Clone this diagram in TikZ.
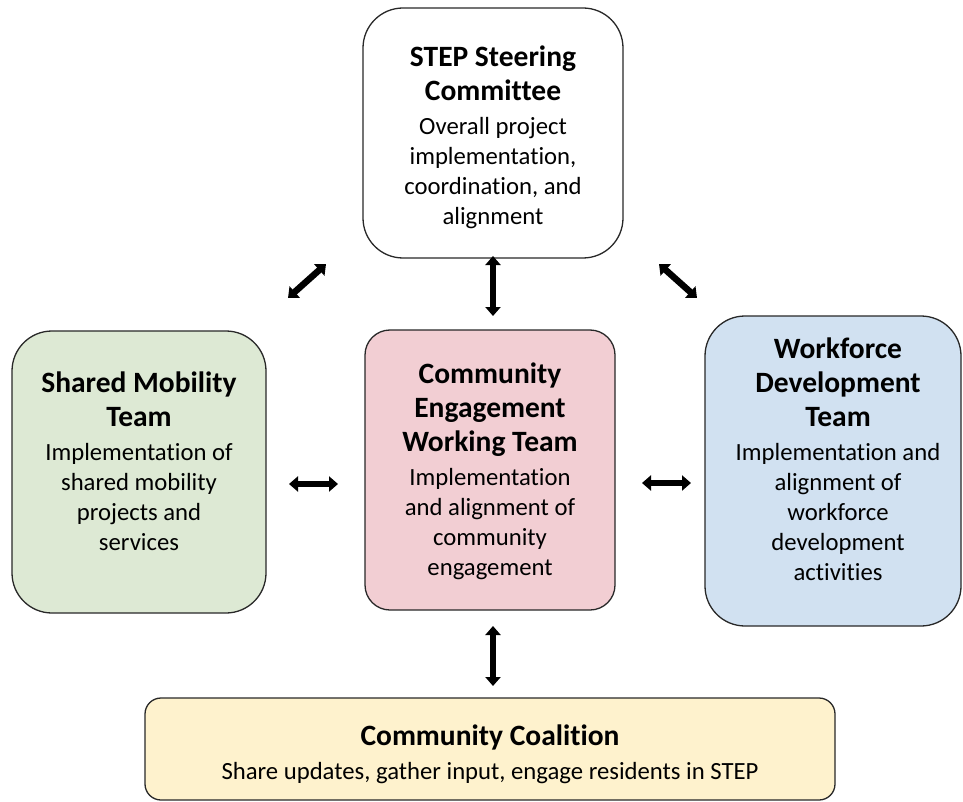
\documentclass[tikz,border=0pt]{standalone}
\usepackage{fontspec}
\setmainfont[Ligatures=NoCommon]{Carlito}
\usetikzlibrary{arrows.meta}
\definecolor{gfill}{RGB}{221,233,212}
\definecolor{pfill}{RGB}{242,206,211}
\definecolor{bfill}{RGB}{209,225,241}
\definecolor{yfill}{RGB}{254,242,205}
\definecolor{edge}{RGB}{40,40,40}
\newcommand{\tf}{\fontsize{29.5}{34}\selectfont\bfseries}
\tikzset{
  boxshape/.style={draw=edge, line width=1.3pt, rectangle, inner sep=0pt},
  boxtext/.style={align=center, inner sep=0pt, font=\fontsize{24.7}{30}\selectfont, text=black},
  dblarrow/.style={line width=6.5pt, {Triangle[width=15pt,length=9pt]}-{Triangle[width=15pt,length=9pt]}},
}
\begin{document}
\begin{tikzpicture}[x=1pt,y=-1pt]
\useasboundingbox (0,0) rectangle (963,802);
% boxes
\node[boxshape, fill=white, rounded corners=40pt, minimum width=260pt, minimum height=250pt] (steer) at (493,133) {};
\node[boxshape, fill=gfill, rounded corners=40pt, minimum width=254pt, minimum height=282pt] (shared) at (139,472) {};
\node[boxshape, fill=pfill, rounded corners=25pt, minimum width=250pt, minimum height=280pt] (cewt) at (490,470) {};
\node[boxshape, fill=bfill, rounded corners=40pt, minimum width=256pt, minimum height=310pt] (work) at (833,471) {};
\node[boxshape, fill=yfill, rounded corners=16pt, minimum width=690pt, minimum height=102pt] (coal) at (490,749) {};
% texts
\node[boxtext] (steertxt) at (493,137) {{\tf STEP Steering}\\[4pt]{\tf Committee}\\[4pt]Overall project\\implementation,\\coordination, and\\alignment};
\node[boxtext] (sharedtxt) at (139,461) {{\tf Shared Mobility}\\[4pt]{\tf Team}\\[4pt]Implementation of\\shared mobility\\projects and\\services};
\node[boxtext] (cewttxt) at (490,471) {{\tf Community}\\[4pt]{\tf Engagement}\\[4pt]{\tf Working Team}\\[4pt]Implementation\\and alignment of\\community\\engagement};
\node[boxtext] (worktxt) at (838,459) {{\tf Workforce}\\[4pt]{\tf Development}\\[4pt]{\tf Team}\\[4pt]Implementation and\\alignment of\\workforce\\development\\activities};
\node[boxtext] (coaltxt) at (490,754) {{\tf Community Coalition}\\[4pt]Share updates, gather input, engage residents in STEP};
% arrow ends
\coordinate (a1s) at (288,298); \coordinate (a1e) at (326,264);
\coordinate (a2s) at (493,256); \coordinate (a2e) at (493,316);
\coordinate (a3s) at (659,264); \coordinate (a3e) at (697,298);
\coordinate (a4s) at (289,484); \coordinate (a4e) at (338,484);
\coordinate (a5s) at (642,483); \coordinate (a5e) at (691,483);
\coordinate (a6s) at (493,626); \coordinate (a6e) at (493,686);
\draw[dblarrow] (a1s) -- (a1e);
\draw[dblarrow] (a2s) -- (a2e);
\draw[dblarrow] (a3s) -- (a3e);
\draw[dblarrow] (a4s) -- (a4e);
\draw[dblarrow] (a5s) -- (a5e);
\draw[dblarrow] (a6s) -- (a6e);
\end{tikzpicture}
\end{document}
